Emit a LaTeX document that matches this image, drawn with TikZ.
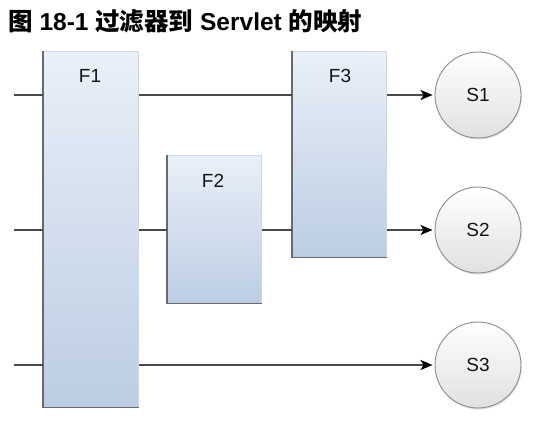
\documentclass[tikz,border=0pt]{standalone}
\usepackage{fontspec}
\setmainfont{Liberation Sans}
\newfontfamily\cjk{Noto Sans CJK SC}
\usetikzlibrary{shadows,arrows.meta}
\definecolor{boxtop}{HTML}{E9F0F8}
\definecolor{boxbot}{HTML}{BCCDE3}
\definecolor{boxedge}{HTML}{6A6A6A}
\definecolor{boxlight}{HTML}{CCD8E8}
\definecolor{wire}{HTML}{484848}
\definecolor{circedge}{HTML}{8C8C8C}
\tikzset{
  filt/.style={rectangle, inner sep=0pt, top color=boxtop, bottom color=boxbot, draw=boxlight, line width=0.8pt},
  flabel/.style={font=\fontsize{19}{19}\selectfont, text=black!92},
  serv/.style={circle, minimum size=86pt, inner sep=0pt, top color=white, bottom color=black!12, draw=circedge, line width=0.9pt, drop shadow={opacity=0.25, shadow xshift=0.8pt, shadow yshift=-1.5pt}, font=\fontsize{19}{19}\selectfont, text=black!92},
  wireline/.style={draw=wire, line width=1.6pt},
  arr/.style={wireline, -{Stealth[length=12pt,width=10pt,inset=3pt,color=black]}, shorten >=2pt}
}
\begin{document}
\begin{tikzpicture}[x=1pt,y=-1pt]
\useasboundingbox (0,0) rectangle (546,444);
\node[anchor=base west, inner sep=0pt, font=\bfseries\fontsize{24.5}{24.5}\selectfont] (title) at (8,31) {{\cjk\bfseries 图} 18-1 {\cjk\bfseries 过滤器到} Servlet {\cjk\bfseries 的映射}};
% filters
\node[filt, minimum width=95pt, minimum height=356pt, anchor=north west] (F1) at (43,51) {};
\node[filt, minimum width=94pt, minimum height=148pt, anchor=north west] (F2) at (167,155) {};
\node[filt, minimum width=94pt, minimum height=206pt, anchor=north west] (F3) at (292,51) {};
\foreach \b in {F1,F2,F3}{
  \draw[boxedge, line width=1.3pt] (\b.north west) -- (\b.south west) -- (\b.south east);
}
\node[flabel] (F1l) at (90,76) {F1};
\node[flabel] (F2l) at (213,181) {F2};
\node[flabel] (F3l) at (340,76) {F3};
% servlets
\node[serv] (S1) at (478,95) {S1};
\node[serv] (S2) at (478,230) {S2};
\node[serv] (S3) at (478,365) {S3};
% inputs
\coordinate (in1) at (14,95);
\coordinate (in2) at (14,230);
\coordinate (in3) at (14,365);
% wires
\draw[wireline] (in1) -- (F1.west |- in1);
\draw[wireline] (in2) -- (F1.west |- in2);
\draw[wireline] (in3) -- (F1.west |- in3);
\draw[wireline] (F1.east |- in1) -- (F3.west |- in1);
\draw[wireline] (F1.east |- in2) -- (F2.west |- in2);
\draw[wireline] (F2.east |- in2) -- (F3.west |- in2);
\draw[arr] (F3.east |- in1) -- (S1.west);
\draw[arr] (F3.east |- in2) -- (S2.west);
\draw[arr] (F1.east |- in3) -- (S3.west);
\end{tikzpicture}
\end{document}
